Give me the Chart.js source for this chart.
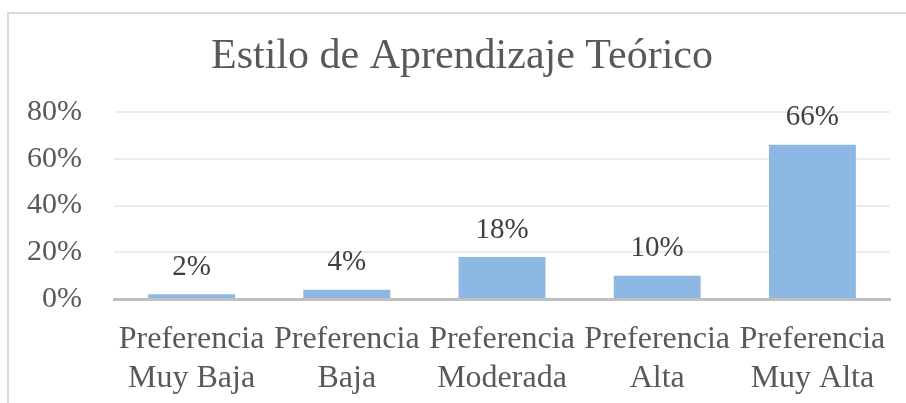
<!DOCTYPE html>
<html>
<head>
<meta charset="utf-8">
<script src="https://cdn.jsdelivr.net/npm/chart.js@4.4.1/dist/chart.umd.min.js"></script>
<style>
    html, body { margin: 0; padding: 0; background: #fff; }
    #wrap { position: relative; width: 906px; height: 403px; }
    #frame {
        position: absolute; left: 7px; top: 12px; right: 0; bottom: 0;
        border-left: 2px solid #d9d9d9; border-top: 2px solid #d9d9d9;
    }
    canvas { position: absolute; left: 0; top: 0; }
</style>
</head>
<body>
<div id="wrap">
    <div id="frame"></div>
    <canvas id="chart" width="906" height="403"></canvas>
</div>
<script>
const categories = [
    ['Preferencia', 'Muy Baja'],
    ['Preferencia', 'Baja'],
    ['Preferencia', 'Moderada'],
    ['Preferencia', 'Alta'],
    ['Preferencia', 'Muy Alta']
];
const values = [2, 4, 18, 10, 66];
const yTicks = [0, 20, 40, 60, 80];

const serif = "'Liberation Serif', 'Times New Roman', serif";

// labels above each bar
const barLabels = {
    id: 'barLabels',
    afterLayout(chart) {
        // title sits a bit right of centre in the original
        if (chart.titleBlock) chart.titleBlock.left += 34;
    },
    afterDatasetsDraw(chart) {
        const ctx = chart.ctx;
        const meta = chart.getDatasetMeta(0);
        ctx.save();
        ctx.font = '29px ' + serif;
        ctx.fillStyle = '#404040';
        ctx.textAlign = 'center';
        ctx.textBaseline = 'middle';
        meta.data.forEach((bar, i) => {
            ctx.fillText(values[i] + '%', bar.x, bar.y - 27);
        });
        ctx.restore();
    }
};

new Chart(document.getElementById('chart').getContext('2d'), {
    type: 'bar',
    data: {
        labels: categories,
        datasets: [{
            data: values,
            backgroundColor: '#8db8e3',
            borderWidth: 0,
            categoryPercentage: 1,
            barPercentage: 0.56
        }]
    },
    options: {
        responsive: false,
        animation: false,
        layout: { padding: { left: 0, right: 16, top: 0, bottom: 0 } },
        plugins: {
            legend: { display: false },
            tooltip: { enabled: false },
            title: {
                display: true,
                text: 'Estilo de Aprendizaje Teórico',
                color: '#595959',
                font: { family: serif, size: 42, weight: 'normal', lineHeight: 1.2 },
                padding: { top: 32, bottom: 29.6 }
            }
        },
        scales: {
            y: {
                min: 0,
                max: 80,
                afterBuildTicks: (scale) => { scale.ticks = yTicks.map(v => ({ value: v })); },
                afterFit: (scale) => { scale.width = 114; },
                border: { display: false },
                grid: { color: '#ececec', lineWidth: 2, drawTicks: false },
                ticks: {
                    padding: 32,
                    color: '#595959',
                    font: { family: serif, size: 30 },
                    callback: v => v + '%'
                }
            },
            x: {
                afterFit: (scale) => {
                    scale.height = 104;
                    scale.paddingLeft = 0;
                    scale.paddingRight = 0;
                },
                border: { display: true, color: '#bfbfbf', width: 3 },
                grid: { display: false, drawTicks: false },
                ticks: {
                    padding: 21,
                    maxRotation: 0,
                    autoSkip: false,
                    color: '#595959',
                    font: { family: serif, size: 32, lineHeight: 1.22 }
                }
            }
        }
    },
    plugins: [barLabels]
});
</script>
</body>
</html>
